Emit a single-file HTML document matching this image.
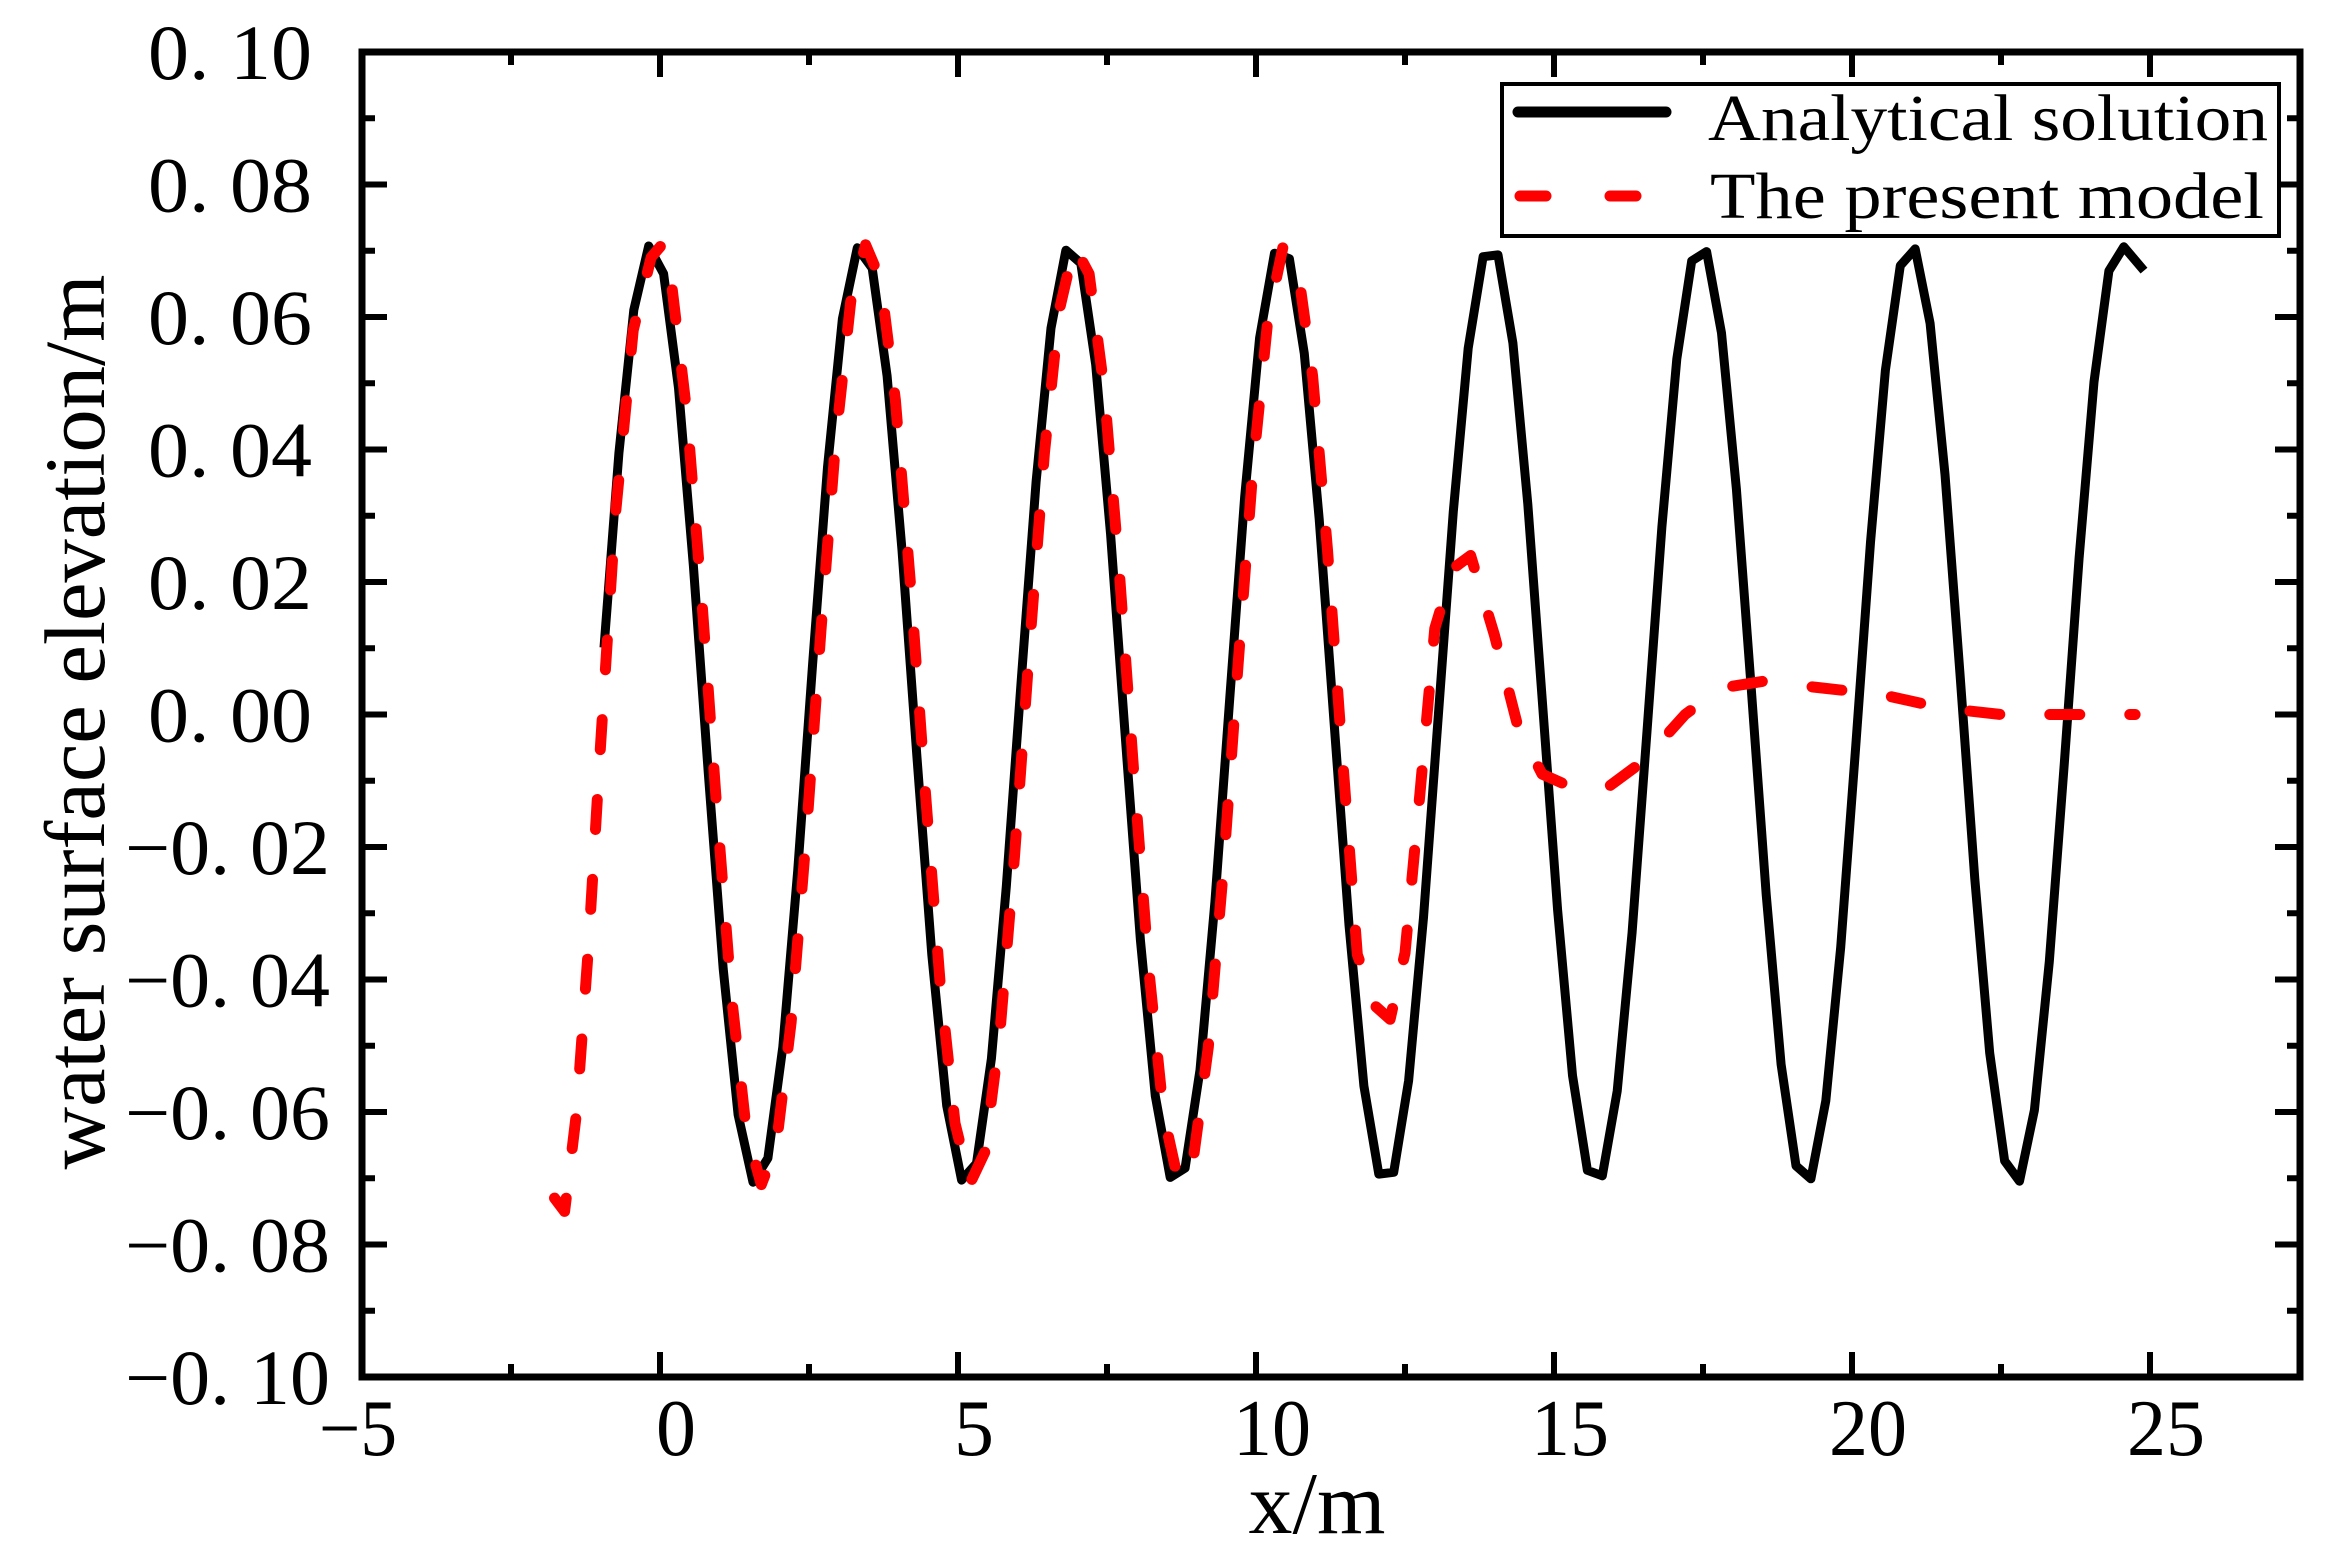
<!DOCTYPE html>
<html><head><meta charset="utf-8">
<style>
html,body{margin:0;padding:0;background:#fff;}
svg{display:block;}
text{font-family:"Liberation Serif","DejaVu Serif",serif;fill:#000;}
</style></head>
<body>
<svg id="s" width="2330" height="1556" viewBox="0 0 2330 1556" xmlns="http://www.w3.org/2000/svg">
<rect width="2330" height="1556" fill="#fff"/>
<g id="g"></g>
</svg>
<script>
const L=362,R=2300,T=52,B=1377;
const X=x=>L+(x+5)*59.6;
const Y=v=>T+(0.1-v)/0.2*(B-T);
let h='';
let pts=[];
const P=3.52,x0=-0.14,A=0.071;
for(let x=-0.94;x<=24.8;x+=0.25){pts.push([x,A*Math.cos(2*Math.PI*(x-x0)/P)]);}
pts.push([24.9,0.067]);
h+='<polyline fill="none" stroke="#000" stroke-width="9" stroke-linejoin="round" points="'+pts.map(p=>X(p[0]).toFixed(1)+','+Y(p[1]).toFixed(1)).join(' ')+'"/>';
let m=[[-1.77,-0.073],[-1.6,-0.075],[-1.4,-0.06],[-1.2,-0.035],[-1.0,-0.005],[-0.75,0.03],[-0.45,0.058],[-0.15,0.069],[0.04,0.071]];
for(let x=0.2;x<=11.8;x+=0.25){m.push([x,A*Math.cos(2*Math.PI*(x-x0-0.1)/P)]);}
m=m.concat([[12.0,-0.044],[12.25,-0.046],[12.5,-0.036],[12.75,-0.012],[13.0,0.013],[13.3,0.022],[13.6,0.024],[14.0,0.012],[14.4,-0.002],[14.8,-0.009],[15.3,-0.011],[15.9,-0.011],[16.5,-0.007],[17.2,0.0],[17.8,0.004],[18.5,0.005],[19.5,0.004],[20.5,0.003],[21.5,0.001],[22.5,0.0],[23.5,0.0],[24.75,0.0]]);
h+='<polyline fill="none" stroke="#f00" stroke-width="11" stroke-linecap="round" stroke-linejoin="round" stroke-dasharray="30 50" points="'+m.map(p=>X(p[0]).toFixed(1)+','+Y(p[1]).toFixed(1)).join(' ')+'"/>';
h+='<rect x="'+L+'" y="'+T+'" width="'+(R-L)+'" height="'+(B-T)+'" fill="none" stroke="#000" stroke-width="7"/>';
for(let i=0;i<=20;i++){const v=-0.1+i*0.01;const y=Y(v);const len=(i%2==0)?25:13;
h+='<line x1="'+L+'" y1="'+y+'" x2="'+(L+len)+'" y2="'+y+'" stroke="#000" stroke-width="6"/>';
h+='<line x1="'+R+'" y1="'+y+'" x2="'+(R-len)+'" y2="'+y+'" stroke="#000" stroke-width="6"/>';
if(i%2==0){let s=Math.abs(v).toFixed(2).replace('.','. ');let neg=v<-1e-9;if(neg)s='\u2212'+s;
const xe=neg?330:312, w=neg?205:164;
h+='<text x="'+(xe-w)+'" y="'+(y+27)+'" font-size="78" textLength="'+w+'" lengthAdjust="spacingAndGlyphs" xml:space="preserve">'+s+'</text>';}}
for(let i=0;i<=13;i++){const xv=-5+i*2.5;const x=X(xv);if(x>R-5)continue;const len=(i%2==0)?25:13;
h+='<line x1="'+x+'" y1="'+B+'" x2="'+x+'" y2="'+(B-len)+'" stroke="#000" stroke-width="6"/>';
h+='<line x1="'+x+'" y1="'+T+'" x2="'+x+'" y2="'+(T+len)+'" stroke="#000" stroke-width="6"/>';
if(i%2==0){let s=(xv<0?'\u2212':'')+Math.abs(xv);
let attr=Math.abs(xv)>=10||xv<0?' textLength="78" lengthAdjust="spacingAndGlyphs"':'';
h+='<text x="'+(x+(xv<0?-4:16))+'" y="1455" font-size="80" text-anchor="middle"'+attr+'>'+s+'</text>';}}
h+='<text x="1317" y="1533" font-size="88" text-anchor="middle">x/m</text>';
h+='<text transform="translate(104,722) rotate(-90)" font-size="86" text-anchor="middle" textLength="895" lengthAdjust="spacingAndGlyphs">water surface elevation/m</text>';
h+='<rect x="1502" y="84" width="777" height="152" fill="#fff" stroke="#000" stroke-width="4"/>';
h+='<line x1="1518" y1="112" x2="1666" y2="112" stroke="#000" stroke-width="11" stroke-linecap="round"/>';
h+='<line x1="1520" y1="196" x2="1546" y2="196" stroke="#f00" stroke-width="11" stroke-linecap="round"/>';
h+='<line x1="1610" y1="196" x2="1636" y2="196" stroke="#f00" stroke-width="11" stroke-linecap="round"/>';
h+='<text x="1708" y="140" font-size="66" textLength="560" lengthAdjust="spacingAndGlyphs">Analytical solution</text>';
h+='<text x="1710" y="218" font-size="66" textLength="554" lengthAdjust="spacingAndGlyphs">The present model</text>';
document.getElementById('g').innerHTML=h;
</script>
</body></html>
